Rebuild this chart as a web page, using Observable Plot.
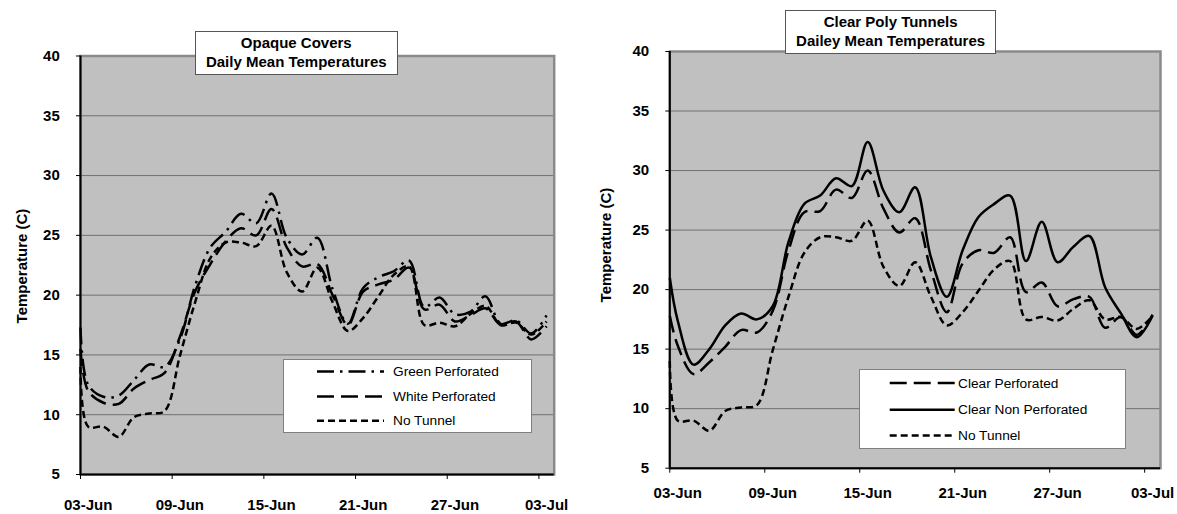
<!DOCTYPE html>
<html>
<head>
<meta charset="utf-8">
<script src="https://cdn.jsdelivr.net/npm/d3@7"></script>
<script src="https://cdn.jsdelivr.net/npm/@observablehq/plot@0.6"></script>
<style>
  html, body { margin: 0; padding: 0; background: #fff; }
  body { width: 1177px; height: 514px; position: relative; overflow: hidden;
         font-family: "Liberation Sans", Arial, sans-serif; }
  .panel { position: absolute; top: 0; }
  .title { position: absolute; background: #fff; border: 1px solid #555; box-sizing: border-box;
           display: flex; flex-direction: column; justify-content: center; align-items: center;
           font-weight: bold; font-size: 15px; line-height: 18.3px; color: #000; white-space: nowrap; }
  .ytitle { position: absolute; font-weight: bold; font-size: 15px; white-space: nowrap; color: #000;
            transform: translate(-50%, -50%) rotate(-90deg); }
  .legend { position: absolute; }
</style>
</head>
<body>
<script>
// ---------- data ----------
// first value at 03-Jun 00:00, then daily means plotted at mid-day
const dates = [
  "2009-06-03T00:00Z", "2009-06-03T12:00Z", "2009-06-04T12:00Z", "2009-06-05T12:00Z",
  "2009-06-06T12:00Z", "2009-06-07T12:00Z", "2009-06-08T12:00Z", "2009-06-09T12:00Z",
  "2009-06-10T12:00Z", "2009-06-11T12:00Z", "2009-06-12T12:00Z", "2009-06-13T12:00Z",
  "2009-06-14T12:00Z", "2009-06-15T12:00Z", "2009-06-16T12:00Z", "2009-06-17T12:00Z",
  "2009-06-18T12:00Z", "2009-06-19T12:00Z", "2009-06-20T12:00Z", "2009-06-21T12:00Z",
  "2009-06-22T12:00Z", "2009-06-23T12:00Z", "2009-06-24T12:00Z", "2009-06-25T12:00Z",
  "2009-06-26T12:00Z", "2009-06-27T12:00Z", "2009-06-28T12:00Z", "2009-06-29T12:00Z",
  "2009-06-30T12:00Z", "2009-07-01T12:00Z", "2009-07-02T12:00Z", "2009-07-03T12:00Z"
];

const noTunnel = [14.0, 9.0, 9.0, 8.15, 9.8, 10.1, 10.3, 14.9, 19.4, 23.1, 24.4, 24.4, 24.1, 25.8, 21.9, 20.3,
                  22.3, 19.4, 17.0, 18.1, 19.9, 21.7, 22.4, 17.5, 17.7, 17.4, 18.4, 19.1, 17.5, 17.7, 16.7, 17.8];
const greenPerforated = [17.3, 12.5, 11.5, 11.6, 12.9, 14.2, 14.0, 16.3, 20.8, 24.0, 25.3, 26.8, 26.0, 28.5, 24.8, 23.4,
                  24.8, 20.5, 17.6, 20.6, 21.5, 22.0, 22.9, 19.0, 19.8, 18.4, 18.6, 19.9, 17.6, 17.9, 16.8, 18.3];
const whitePerforated = [15.5, 12.0, 11.0, 10.9, 12.2, 12.9, 13.5, 16.5, 20.3, 22.6, 24.5, 25.6, 25.0, 27.2, 24.0, 22.4,
                  22.6, 20.0, 17.5, 20.3, 20.9, 21.3, 22.3, 18.8, 19.2, 17.8, 18.3, 18.9, 17.5, 17.8, 16.3, 17.4];
const clearPerforated = [17.8, 15.3, 12.9, 13.9, 15.2, 16.6, 16.4, 18.2, 23.3, 26.5, 26.6, 28.4, 27.7, 30.0, 26.8, 24.8,
                  26.0, 21.6, 18.1, 22.2, 23.3, 23.1, 24.4, 19.8, 20.6, 18.6, 19.2, 19.4, 16.8, 17.7, 16.2, 17.9];
const clearNonPerforated = [21.0, 17.4, 13.7, 15.0, 17.0, 18.0, 17.5, 18.6, 24.0, 27.2, 27.9, 29.35, 28.7, 32.4, 28.3, 26.5,
                  28.6, 22.7, 19.4, 23.3, 26.1, 27.2, 27.9, 22.4, 25.7, 22.3, 23.6, 24.5, 20.2, 18.0, 16.0, 17.8];

const tickDays = ["2009-06-03", "2009-06-09", "2009-06-15", "2009-06-21", "2009-06-27", "2009-07-03"];
const yTicks = [5, 10, 15, 20, 25, 30, 35, 40];
const xDomain = ["2009-06-03T00:00Z", "2009-07-04T00:00Z"];

const panels = [
  {
    left: 0, width: 580, marginLeft: 80, marginRight: 26.3, marginTop: 55.5, marginBottom: 40, labelPad: 25,
    title: ["Opaque Covers", "Daily Mean Temperatures"],
    titleBox: {left: 195, top: 31, width: 202.5, height: 43.5},
    yTitle: {x: 21, y: 266},
    series: [
      {name: "Green Perforated", values: greenPerforated, dash: "17,6,2.5,6"},
      {name: "White Perforated", values: whitePerforated, dash: "17,7"},
      {name: "No Tunnel", values: noTunnel, dash: "7,4"}
    ],
    legend: {left: 282.7, top: 359.3, width: 249, height: 74, rows: [12.4, 37.4, 61.7], sx0: 34, sx1: 101, tx: 110}
  },
  {
    left: 590, width: 587, marginLeft: 79.3, marginRight: 17, marginTop: 51, marginBottom: 46.3, labelPad: 19.5,
    title: ["Clear Poly Tunnels", "Dailey Mean Temperatures"],
    titleBox: {left: 785.3, top: 10, width: 210.6, height: 43.5},
    yTitle: {x: 605, y: 245},
    series: [
      {name: "Clear Perforated", values: clearPerforated, dash: "17,7"},
      {name: "Clear Non Perforated", values: clearNonPerforated, dash: null},
      {name: "No Tunnel", values: noTunnel, dash: "7,4"}
    ],
    legend: {left: 859.3, top: 369.3, width: 267, height: 80, rows: [14, 40.7, 66.4], sx0: 30.7, sx1: 95.7, tx: 99}
  }
];

const fmt = d3.utcFormat("%d-%b");
const tickDates = tickDays.map(d => new Date(d + "T00:00Z"));
const labelDates = tickDays.map(d => new Date(d + "T12:00Z"));
const FONT = "'Liberation Sans', Arial, sans-serif";

for (const p of panels) {
  const marks = [
    Plot.frame({fill: "#c0c0c0", stroke: null}),
    Plot.ruleY(yTicks.slice(1, -1), {stroke: "#707070", strokeWidth: 1}),
    Plot.frame({stroke: "#8a8a8a", strokeWidth: 2.5, fill: null}),
    Plot.ruleX([new Date(xDomain[0])], {stroke: "#000", strokeWidth: 2}),
    Plot.ruleY([5], {stroke: "#000", strokeWidth: 2}),
    Plot.axisY({ticks: yTicks, tickSize: 4, tickPadding: 16.7, label: null, tickFormat: d => String(d),
                fontSize: 15, fontWeight: "bold", fontFamily: FONT}),
    Plot.axisX({ticks: tickDates, tickSize: 5, tickFormat: () => "", label: null}),
    Plot.axisX({ticks: labelDates, tickSize: 0, tickPadding: p.labelPad, tickFormat: fmt, label: null,
                fontSize: 15, fontWeight: "bold", fontFamily: FONT})
  ];
  for (const s of p.series) {
    const rows = dates.map((d, i) => ({date: new Date(d), value: s.values[i]}));
    marks.push(Plot.line(rows, {
      x: "date", y: "value", curve: "catmull-rom",
      stroke: "#000", strokeWidth: 2.5,
      strokeDasharray: s.dash || undefined, strokeLinecap: "butt", strokeLinejoin: "round"
    }));
  }
  const chart = Plot.plot({
    width: p.width, height: 514,
    marginLeft: p.marginLeft, marginRight: p.marginRight, marginTop: p.marginTop, marginBottom: p.marginBottom,
    x: {type: "utc", domain: xDomain.map(d => new Date(d))},
    y: {domain: [5, 40]},
    style: {fontFamily: FONT, fontSize: "15px", fontWeight: "bold",
            color: "#000", background: "transparent", overflow: "visible"},
    marks
  });
  const div = document.createElement("div");
  div.className = "panel";
  div.style.left = p.left + "px";
  div.appendChild(chart);
  document.body.appendChild(div);

  // y-axis title
  const yt = document.createElement("div");
  yt.className = "ytitle";
  yt.style.left = p.yTitle.x + "px";
  yt.style.top = p.yTitle.y + "px";
  yt.textContent = "Temperature (C)";
  document.body.appendChild(yt);

  // chart title box
  const tb = document.createElement("div");
  tb.className = "title";
  Object.assign(tb.style, {left: p.titleBox.left + "px", top: p.titleBox.top + "px",
                           width: p.titleBox.width + "px", height: p.titleBox.height + "px"});
  for (const line of p.title) {
    const l = document.createElement("div");
    l.textContent = line;
    tb.appendChild(l);
  }
  document.body.appendChild(tb);

  // legend box
  const L = p.legend;
  const svg = d3.select(document.body).append("svg")
    .attr("class", "legend")
    .attr("width", L.width).attr("height", L.height)
    .style("left", L.left + "px").style("top", L.top + "px");
  svg.append("rect").attr("x", 0.5).attr("y", 0.5)
    .attr("width", L.width - 1).attr("height", L.height - 1)
    .attr("fill", "#fff").attr("stroke", "#808080").attr("stroke-width", 1);
  p.series.forEach((s, i) => {
    const y = L.rows[i];
    svg.append("line").attr("x1", L.sx0).attr("x2", L.sx1).attr("y1", y).attr("y2", y)
      .attr("stroke", "#000").attr("stroke-width", 2.5)
      .attr("stroke-dasharray", s.dash || null);
    svg.append("text").attr("x", L.tx).attr("y", y).attr("dy", "0.35em")
      .attr("font-family", FONT).attr("font-size", "13.7px")
      .attr("fill", "#000").text(s.name);
  });
}
</script>
</body>
</html>
